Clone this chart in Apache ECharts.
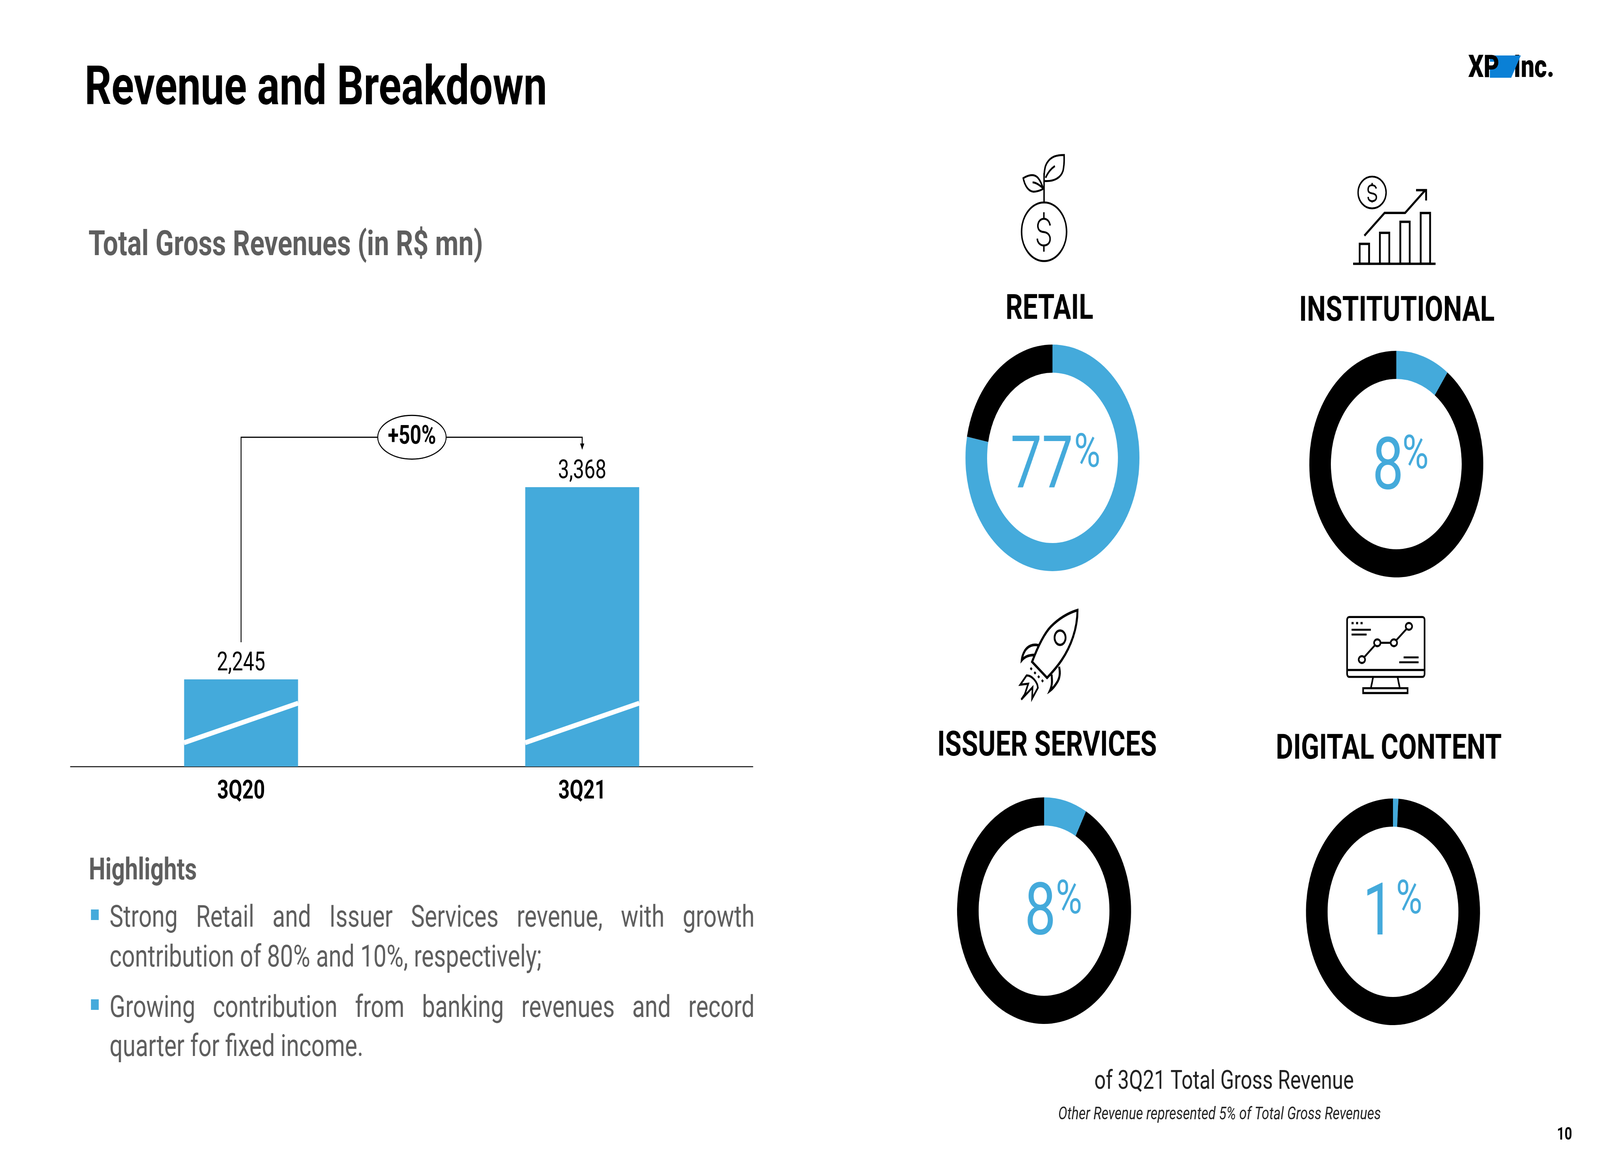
<!DOCTYPE html>
<html><head><meta charset="utf-8">
<style>html,body{margin:0;padding:0;background:#fff;overflow:hidden}#c{width:5333px;height:3000px;transform-origin:0 0}</style>
<script src="https://cdn.jsdelivr.net/npm/echarts@6/dist/echarts.min.js"></script>
</head><body><div id="c"></div>
<script>
// ---- data ----
const categories = ['3Q20', '3Q21'];
const revenue = [2245, 3368];
const revenueLabels = ['2,245', '3,368'];
const growthLabel = '+50%';
const segments = ['RETAIL', 'INSTITUTIONAL', 'ISSUER SERVICES', 'DIGITAL CONTENT'];
const segmentSlice = [78, 10, 8, 1];     // share of ring drawn blue
const segmentLabel = ['77', '8', '8', '1'];
const highlightLines = [
  'Strong Retail and Issuer Services revenue, with growth',
  'contribution of 80% and 10%, respectively;',
  'Growing contribution from banking revenues and record',
  'quarter for fixed income.'
];
// ---- style ----
const BLUE = '#44AADB', GREY = '#5E5E5E', FONT = 'Roboto';
const yMin = 1736, yMax = 3932;
const breakLine = [1875, 2106];      // axis-break stroke, axis values at bar's left / right edge
const bracketStart = 2462, bracketLevel = 3660, bracketEnd = 3587;

const rings = [
  {c:[3508,1172], tx:3498, ty:818, num:[3368,1251], pct:[3580,1197]},
  {c:[4654,1188], tx:4656, ty:823, num:[4574,1255], pct:[4674,1201]},
  {c:[3480,2331], tx:3490, ty:1936, num:[3415,2395], pct:[3519,2340]},
  {c:[4643,2334], tx:4629, ty:1944, num:[4542,2396], pct:[4653,2340]}
];

// the stage is laid out in reference pixels and fitted to the actual window
const stage = document.getElementById('c');
stage.style.transform = `scale(${window.innerWidth/5333},${window.innerHeight/3000})`;

function txt(text, x, baseline, size, o) {
  o = o || {};
  return {type:'text', z:10, silent:true, style:{
    text, x, y: baseline - 0.27*size, fontFamily:o.family||FONT, fontSize:size,
    fontWeight:o.weight||400, fontStyle:o.style||'normal',
    fill:o.fill||'#000', align:o.align||'left', verticalAlign:'middle'}};
}
function justified(line, x0, x1, baseline, size, o) {
  const ctx = document.createElement('canvas').getContext('2d');
  ctx.font = size + 'px ' + FONT;
  const words = line.split(' ');
  const widths = words.map(w => ctx.measureText(w).width);
  const gap = (x1 - x0 - widths.reduce((a,b)=>a+b,0)) / (words.length - 1);
  let x = x0;
  return words.map((w,i) => { const e = txt(w, x, baseline, size, o); x += widths[i] + gap; return e; });
}
function icon(d, x, y, lw, fill) {
  return {type:'path', x, y, scaleX:1/3, scaleY:1/3,
    shape:{pathData:d}, style:{fill:fill||'none', stroke:fill?null:'#000', lineWidth:lw, lineJoin:'miter', lineCap:'butt'}};
}
function rectP(x0,y0,x1,y1){return `M${x0},${y0}L${x1},${y0}L${x1},${y1}L${x0},${y1}Z`;}
function circ(cx,cy,rx,ry){ry=ry||rx;return `M${cx-rx},${cy}A${rx},${ry} 0 1 1 ${cx+rx},${cy}A${rx},${ry} 0 1 1 ${cx-rx},${cy}Z`;}

const icons = [
  // plant and coin
  icon(circ(300,640,225),3380,380,15),
  icon('M300,410V190M305,250C400,255 470,225 490,170C505,120 500,80 500,50C430,50 370,60 330,110C305,140 300,180 300,250M315,225C340,180 370,155 408,135M292,310C260,235 230,205 180,205C150,205 120,215 92,228C105,280 140,330 195,332C235,332 265,322 292,310M185,260C225,262 260,285 290,305',3380,380,15),
  icon('M360,592C355,560 330,540 298,540C262,540 238,565 238,595C238,625 262,640 298,642C335,645 360,665 360,695C360,725 335,745 298,745C262,745 235,725 232,692M298,490V540M298,745V793',3380,380,15),
  // growth chart
  icon(circ(190,188,140,122),4510,430,14),
  icon('M232,158C225,140 210,132 190,132C165,132 150,145 150,165C150,188 170,192 190,195C215,198 233,207 233,225C233,245 212,255 190,255C168,255 152,243 150,222M190,115V132M190,255V265',4510,430,14),
  icon('M113,520L315,345H520L722,170M630,170H730V250M0,736H825',4510,430,18),
  icon(rectP(66,583,160,735)+rectP(268,498,362,735)+rectP(472,413,566,735)+rectP(676,346,770,735),4510,430,18),
  // rocket
  icon('M604,35C520,55 430,90 340,160C270,215 210,310 150,432L300,555C400,475 500,380 560,240C590,170 604,100 604,35Z',3390,1550,20),
  icon(circ(430,247,55),3390,1550,18),
  icon('M212,305C160,295 110,310 80,345C60,370 50,395 47,420C80,390 120,380 170,380M420,470C435,520 425,560 400,590C380,615 355,640 328,655C355,610 350,570 345,530',3390,1550,20),
  icon('M134,479L148,492M172,511L186,524M209,541L223,554M247,572L261,585',3390,1550,18),
  icon('M95,537L32,608L112,600L78,680L42,722L155,628L150,715L208,632C205,590 150,535 95,537Z',3390,1550,16),
  // monitor
  icon('M22,28H753A22,22 0 0 1 775,50V466A22,22 0 0 1 753,488H22A22,22 0 0 1 0,466V50A22,22 0 0 1 22,28ZM0,435H775M260,490L238,575M505,490L527,575'+rectP(160,575,605,612),4490,1570,16),
  icon('M45,126H238M45,163H195M565,338H715M522,376H715',4490,1570,15),
  icon(circ(148,355,32,26)+circ(302,226,32,26)+circ(468,226,32,26)+circ(618,100,32,26)+'M172,336L278,245M334,226H436M492,206L594,120',4490,1570,16),
  icon(rectP(45,66,65,84)+rectP(90,66,110,84)+rectP(135,66,155,84),4490,1570,0,'#000')
];

const logo = [
  txt('Inc.', 5045, 199, 80, {weight:900}),
  {type:'polygon', z:11, silent:true, shape:{points:[[4966,142],[5069,142],[5037,199],[4966,199]]}, style:{fill:'#0A80D6'}},
  {type:'rect', z:11, silent:true, shape:{x:4966,y:158,width:18,height:12}, style:{fill:'#fff'}},
  Object.assign(txt('XP', 4894, 199, 80, {weight:900}), {z:12})
];

const texts = [
  txt('Revenue and Breakdown', 282, 270, 139.5, {weight:700}),
  txt('Total Gross Revenues (in R$ mn)', 295, 655, 89.7, {weight:700, fill:GREY}),
  txt('Highlights', 296, 2253, 78, {weight:700, fill:GREY}),
  ...justified(highlightLines[0], 365, 2515, 2374, 77.5, {fill:GREY}),
  txt(highlightLines[1], 365, 2476, 77.5, {fill:GREY}),
  ...justified(highlightLines[2], 365, 2515, 2605, 77.5, {fill:GREY}),
  txt(highlightLines[3], 365, 2705, 77.5, {fill:GREY}),
  {type:'rect', silent:true, shape:{x:303,y:2328,width:26,height:27}, style:{fill:BLUE}},
  {type:'rect', silent:true, shape:{x:303,y:2558,width:26,height:27}, style:{fill:BLUE}},
  txt('of 3Q21 Total Gross Revenue', 4080, 2788, 67, {align:'center', fill:'#222'}),
  txt('Other Revenue represented 5% of Total Gross Revenues', 4065, 2866, 45, {align:'center', style:'italic', fill:'#222'}),
  txt('10', 5240, 2918, 44, {align:'right', weight:700})
];
rings.forEach((r,i) => {
  texts.push(txt(segments[i], r.tx, r.ty, 89, {weight:700, align:'center'}));
  texts.push(txt(segmentLabel[i], r.num[0], r.num[1], 186, {weight:400, fill:BLUE}));
  texts.push(txt('%', r.pct[0], r.pct[1], 120, {weight:400, fill:BLUE}));
});

const pies = rings.map((r,i) => ({
  type:'pie', center:r.c, radius:[218,290], startAngle:90, clockwise:true, silent:true,
  label:{show:false}, labelLine:{show:false}, animation:false,
  data:[{name:segments[i], value:segmentSlice[i], itemStyle:{color:BLUE}},
        {name:'Other', value:100-segmentSlice[i], itemStyle:{color:'#000'}}]
}));

const chart = echarts.init(stage, null, {renderer:'canvas', width:5333, height:3000});
chart.setOption({
  animation:false, backgroundColor:'#fff',
  grid:{left:235, width:2274, top:1000, bottom:1038},
  xAxis:{type:'category', data:categories,
    axisLine:{lineStyle:{color:'#333', width:3}}, axisTick:{show:false},
    axisLabel:{fontFamily:FONT, fontSize:66, fontWeight:700, color:'#000', margin:32}},
  yAxis:{type:'value', min:yMin, max:yMax, show:false, splitLine:{show:false}},
  series:[
    {type:'bar', data:revenue, barWidth:'33.4%', itemStyle:{color:BLUE}, silent:true,
     label:{show:true, position:'top', distance:7, fontFamily:FONT, fontSize:66, color:'#000',
       formatter:p => revenueLabels[p.dataIndex]}},
    {type:'custom', silent:true, z:5, data:categories.map((c,i)=>i),
     renderItem:(params, api) => {
       const i = api.value(0), half = api.size([1,0])[0]*0.167;
       const cx = api.coord([i, breakLine[0]])[0];
       return {type:'line', shape:{
         x1:cx-half, y1:api.coord([i,breakLine[0]])[1], x2:cx+half, y2:api.coord([i,breakLine[1]])[1]},
         style:{stroke:'#fff', lineWidth:12.5}};
     }},
    {type:'custom', silent:true, z:6, data:[0],
     renderItem:(params, api) => {
       const a = api.coord([0,bracketStart]), b = api.coord([0,bracketLevel]);
       const c = api.coord([1,bracketLevel]), d = api.coord([1,bracketEnd]);
       const mx = 1373;
       return {type:'group', children:[
         {type:'polyline', shape:{points:[a,b,c,[c[0],d[1]-12]]}, style:{stroke:'#000', lineWidth:3, fill:null}},
         {type:'polygon', shape:{points:[[d[0]-7,d[1]-16],[d[0]+7,d[1]-16],[d[0],d[1]]]}, style:{fill:'#000'}},
         {type:'ellipse', shape:{cx:mx, cy:b[1], rx:114, ry:56}, style:{fill:'#fff', stroke:'#000', lineWidth:3}},
         {type:'text', style:{text:growthLabel, x:mx, y:b[1], align:'center', verticalAlign:'middle',
           fontFamily:FONT, fontSize:66, fontWeight:700, fill:'#000'}}
       ]};
     }},
    {type:'custom', silent:true, z:7, coordinateSystem:'none', data:[0],
     renderItem:() => ({type:'group', children:icons})},
    ...pies
  ],
  graphic:{elements:[...texts, ...logo]}
});
</script></body></html>
